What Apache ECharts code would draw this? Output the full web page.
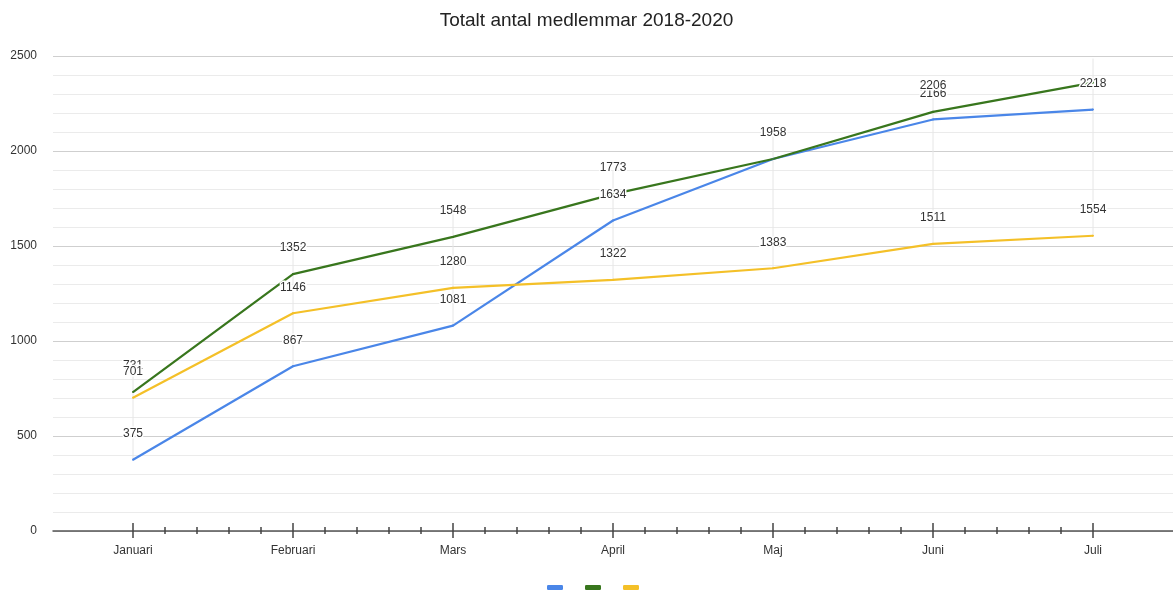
<!DOCTYPE html>
<html>
<head>
<meta charset="utf-8">
<script src="https://cdn.jsdelivr.net/npm/echarts@6/dist/echarts.min.js"></script>
<style>html,body{margin:0;padding:0;background:#fff}#c{width:1173px;height:592px}</style>
</head>
<body>
<div id="c"></div>
<script>
const categories = ['Januari', 'Februari', 'Mars', 'April', 'Maj', 'Juni', 'Juli'];
const seriesNames = ['2018', '2019', '2020'];
const blueValues = [375, 867, 1081, 1634, 1958, 2166, 2218];
const greenValues = [731, 1352, 1548, 1773, 1958, 2206, 2360];
const yellowValues = [701, 1146, 1280, 1322, 1383, 1511, 1554];
const greenHiddenLabelIdx = [6];
const yMin = 0, yMax = 2500, yInterval = 500;

const FONT = '"Liberation Sans", Arial, sans-serif';
const W = 1173, L = 53, R = 0, T = 56, B = 61;
const catW = (W - L - R) / categories.length;

function mk(name, values, color, hidden) {
  return {
    name: name, type: 'line', xAxisIndex: 0, yAxisIndex: 0, z: 3,
    data: values.map((v, i) => hidden && hidden.indexOf(i) >= 0 ? {value: v, label: {show: false}} : v),
    symbol: 'circle', symbolSize: 2, showSymbol: true,
    lineStyle: {color: color, width: 2.2},
    itemStyle: {color: color},
    label: {show: true, position: 'top', distance: 19, fontSize: 12, fontFamily: FONT, color: '#333',
            textBorderColor: '#fff', textBorderWidth: 3},
    emphasis: {disabled: true}
  };
}

const spanData = categories.map((c, i) => {
  const vals = [blueValues[i], greenValues[i], yellowValues[i]];
  return [i, Math.min.apply(null, vals), Math.max.apply(null, vals)];
});

const chart = echarts.init(document.getElementById('c'), null, {renderer: 'canvas'});
chart.setOption({
  animation: false,
  backgroundColor: '#fff',
  title: {text: 'Totalt antal medlemmar 2018-2020', left: 'center', top: 6,
          textStyle: {fontSize: 19, fontWeight: 'normal', color: '#222', fontFamily: FONT}},
  legend: {
    data: seriesNames, top: 585, left: 547, icon: 'roundRect', itemWidth: 16, itemHeight: 5,
    itemGap: 22, padding: 0, formatter: () => '', selectedMode: false, textStyle: {fontSize: 1}
  },
  grid: [
    {left: L, right: R, top: T, bottom: B, containLabel: false},
    {left: L + catW / 2, right: R + catW / 2, top: T, bottom: B, containLabel: false}
  ],
  xAxis: [
    {type: 'category', gridIndex: 0, position: 'bottom', data: categories, boundaryGap: true,
     axisLine: {show: true, lineStyle: {color: '#555', width: 1.5}},
     axisTick: {show: false},
     axisLabel: {margin: 14, fontSize: 12, color: '#333', fontFamily: FONT},
     splitLine: {show: false}},
    {type: 'value', gridIndex: 1, position: 'bottom', offset: 0, min: 0, max: categories.length - 1, interval: 1,
     axisLine: {show: false},
     axisTick: {show: true, inside: true, length: 8, lineStyle: {color: '#444', width: 1.5}},
     minorTick: {show: true, splitNumber: 5, length: 4, lineStyle: {color: '#444', width: 1.5}},
     axisLabel: {show: false}, splitLine: {show: false}},
    {type: 'value', gridIndex: 1, position: 'bottom', offset: 0, min: 0, max: categories.length - 1, interval: 1,
     axisLine: {show: false},
     axisTick: {show: true, inside: false, length: 7, lineStyle: {color: '#444', width: 1.5}},
     minorTick: {show: true, splitNumber: 5, length: 3, lineStyle: {color: '#444', width: 1.5}},
     axisLabel: {show: false}, splitLine: {show: false}}
  ],
  yAxis: [
    {type: 'value', gridIndex: 0, min: yMin, max: yMax, interval: yInterval,
     axisLine: {show: false}, axisTick: {show: false},
     axisLabel: {margin: 16, fontSize: 12, color: '#333', fontFamily: FONT, formatter: v => String(v)},
     splitLine: {show: true, lineStyle: {color: '#cfcfcf', width: 1}},
     minorTick: {show: false, splitNumber: 5},
     minorSplitLine: {show: true, lineStyle: {color: '#ebebeb', width: 1}}},
    {type: 'value', gridIndex: 1, min: yMin, max: yMax, show: false}
  ],
  series: [
    {type: 'custom', xAxisIndex: 0, yAxisIndex: 0, z: 1, silent: true, data: spanData,
     encode: {x: 0, y: [1, 2]},
     renderItem: function (params, api) {
       const lo = api.coord([api.value(0), api.value(1)]);
       const hi = api.coord([api.value(0), api.value(2)]);
       return {type: 'line', shape: {x1: lo[0], y1: hi[1] - 24, x2: lo[0], y2: lo[1]},
               style: {stroke: '#e6e6e6', lineWidth: 1}};
     }},
    mk(seriesNames[0], blueValues, '#4a86e8'),
    mk(seriesNames[1], greenValues, '#38761d', greenHiddenLabelIdx),
    mk(seriesNames[2], yellowValues, '#f4c028')
  ]
});
</script>
</body>
</html>
